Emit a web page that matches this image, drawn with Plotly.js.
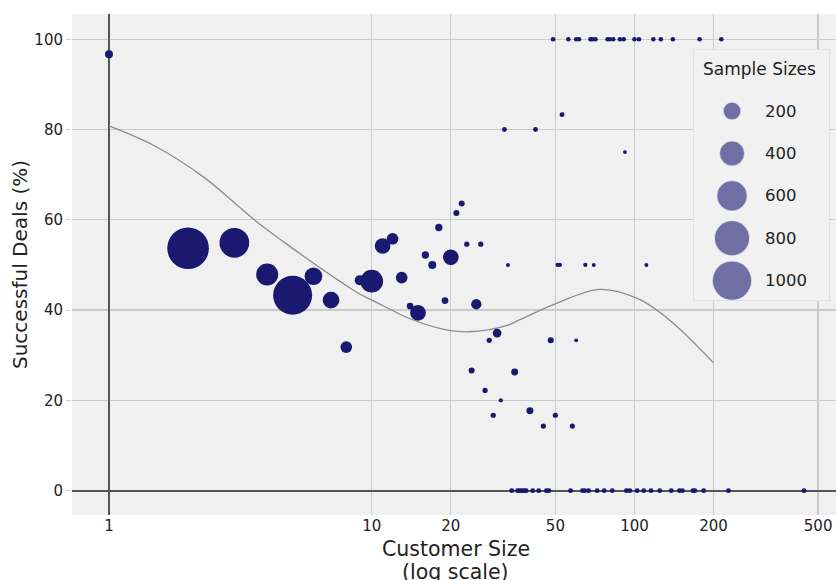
<!DOCTYPE html>
<html>
<head>
<meta charset="utf-8">
<script src="https://cdn.plot.ly/plotly-3.0.1.min.js"></script>
<style>html,body{margin:0;padding:0;background:#fff;}#chart{width:836px;height:580px;}</style>
</head>
<body>
<div id="chart"></div>
<script>
// ---- data ----
const customerSize = [
  1, 2, 3, 4, 5, 6, 7, 8, 9, 10, 11, 12, 13, 14, 15, 16, 17, 18, 19, 20,
  21, 22, 23, 24, 25, 26, 27, 28, 29, 30, 31, 32, 33, 35, 40, 42, 45, 48, 50, 51,
  52, 53, 58, 60, 65, 70, 92, 111,
  // 100% row
  49, 56, 60, 61.5, 68, 69, 71, 79, 80.5, 83, 88, 91, 100, 104, 118, 126, 140, 177, 214,
  // 0% row
  34.1, 35.9, 36.6, 37.3, 38.0, 38.7, 41.0, 43.2, 46.2, 47.2, 57.1, 63.4, 64.6, 66.9, 72.1, 76.7,
  82.3, 93.2, 96, 102.4, 108.4, 115.6, 124.8, 138, 148.3, 152.2, 166.9, 169.8, 183.4, 227.8, 441.8
];
const successPct = [
  96.7, 53.7, 54.9, 47.9, 43.3, 47.5, 42.2, 31.8, 46.6, 46.4, 54.2, 55.8, 47.2, 40.9, 39.4, 52.2, 50.0, 58.3, 42.1, 51.7,
  61.5, 63.6, 54.6, 26.6, 41.3, 54.6, 22.2, 33.3, 16.7, 34.9, 20.0, 80.0, 50.0, 26.3, 17.7, 80.0, 14.3, 33.3, 16.7, 50.0,
  50.0, 83.3, 14.3, 33.3, 50.0, 50.0, 75.0, 50.0,
  100, 100, 100, 100, 100, 100, 100, 100, 100, 100, 100, 100, 100, 100, 100, 100, 100, 100, 100,
  0, 0, 0, 0, 0, 0, 0, 0, 0, 0, 0, 0, 0, 0, 0, 0,
  0, 0, 0, 0, 0, 0, 0, 0, 0, 0, 0, 0, 0, 0, 0
];
const sampleSize = [
  42, 1140, 580, 318, 1000, 206, 183, 90, 66, 338, 162, 90, 90, 30, 162, 35, 42, 35, 30, 162,
  24, 24, 18, 24, 70, 18, 18, 18, 18, 50, 12, 16, 10, 32, 32, 16, 18, 24, 18, 12,
  12, 16, 18, 10, 12, 10, 10, 10,
  14, 14, 14, 14, 14, 14, 14, 14, 14, 14, 14, 14, 14, 14, 14, 14, 14, 14, 14,
  16, 16, 16, 16, 16, 16, 16, 16, 16, 16, 16, 16, 16, 16, 16, 16,
  16, 16, 16, 16, 16, 16, 16, 16, 16, 16, 16, 16, 16, 16, 16
];
// smoothed trend line
const fitX = [1, 1.5, 2.3, 3.0, 3.7, 4.65, 5.8, 7.6, 9.1, 10.2, 13.7, 18.3, 23.5, 32.8, 37, 50, 74, 105, 141, 200];
const fitY = [80.8, 76.3, 69.4, 63.8, 59.3, 55.0, 51.0, 46.3, 43.4, 42.0, 38.3, 35.9, 35.2, 36.6, 38.0, 41.4, 44.6, 42.3, 37.0, 28.3];
// legend
const legendSizes = [200, 400, 600, 800, 1000];
const legendTitle = 'Sample Sizes';
const xTicks = [1, 10, 20, 50, 100, 200, 500];
const yTicks = [0, 20, 40, 60, 80, 100];
const xTitleLines = ['Customer Size', '(log scale)'];

// ---- styling ----
const NAVY = '#191970';
const FONT = 'DejaVu Sans, sans-serif';
const maxDiam = 39;
const sizeref = 2 * 1000 / (maxDiam * maxDiam);
const yRange = [-5.4, 105.6];
const xRange = [-0.1408, 2.767];
const legY = [4.481, -1.462];

const traces = [
  {
    x: fitX, y: fitY, type: 'scatter', mode: 'lines',
    line: {color: '#8c8c8c', width: 1.3, shape: 'spline', smoothing: 1},
    hoverinfo: 'skip', xaxis: 'x', yaxis: 'y'
  },
  {
    x: customerSize, y: successPct, type: 'scatter', mode: 'markers',
    marker: {color: NAVY, opacity: 1, size: sampleSize, sizemode: 'area', sizeref: sizeref, line: {width: 0}},
    xaxis: 'x', yaxis: 'y'
  },
  {
    x: legendSizes.map(() => 0.285), y: legendSizes.map((_, i) => i),
    type: 'scatter', mode: 'markers',
    marker: {color: 'rgba(25,25,112,0.6)', opacity: 1, size: legendSizes, sizemode: 'area', sizeref: sizeref,
             line: {width: 0.8, color: 'rgba(235,235,245,0.7)'}},
    xaxis: 'x2', yaxis: 'y2', hoverinfo: 'skip'
  }
];

const annotations = [
  {xref: 'x2', yref: 'y2', x: 0.489, y: -0.99, text: legendTitle, showarrow: false,
   xanchor: 'center', yanchor: 'middle', font: {family: FONT, size: 17, color: '#222'}}
].concat(legendSizes.map((s, i) => ({
  xref: 'x2', yref: 'y2', x: 0.51, y: i, text: String(s), showarrow: false,
  xanchor: 'left', yanchor: 'middle', font: {family: FONT, size: 16.5, color: '#222'}
}))).concat(xTitleLines.map((t, i) => ({
  xref: 'paper', yref: 'paper', x: 0.502, y: i === 0 ? -0.0679 : -0.1128, text: t, showarrow: false,
  xanchor: 'center', yanchor: 'middle', font: {family: FONT, size: 20.5, color: '#222'}
})));

const layout = {
  width: 836, height: 580,
  margin: {l: 72, r: 0, t: 14, b: 65, pad: 0},
  paper_bgcolor: '#ffffff', plot_bgcolor: '#f0f0f0',
  showlegend: false,
  font: {family: FONT, color: '#222'},
  xaxis: {
    type: 'log', range: xRange, tickvals: xTicks, ticktext: xTicks.map(String),
    showgrid: true, gridcolor: '#cbcbcb', gridwidth: 1.3, zeroline: false, showline: false,
    ticks: '', tickfont: {size: 15, color: '#222'}, ticklabeloverflow: 'allow',
    domain: [0, 1], anchor: 'y', fixedrange: true
  },
  yaxis: {
    range: yRange, tickvals: yTicks, ticktext: yTicks.map(String),
    showgrid: true, gridcolor: '#cbcbcb', gridwidth: 1.3,
    zeroline: true, zerolinecolor: '#555555', zerolinewidth: 2, showline: false,
    ticks: 'outside', ticklen: 5, tickcolor: '#cccccc', tickwidth: 1,
    tickfont: {size: 15, color: '#222'},
    title: {text: 'Successful Deals (%)', font: {size: 20, color: '#222'}, standoff: 1},
    domain: [0, 1], anchor: 'x', fixedrange: true
  },
  xaxis2: {
    domain: [0.8128, 0.9921], range: [0, 1], anchor: 'y2',
    showgrid: false, zeroline: false, showline: false, showticklabels: false, ticks: '', fixedrange: true
  },
  yaxis2: {
    domain: [0.4271, 0.9301], range: legY, autorange: false, anchor: 'x2',
    showgrid: false, zeroline: false, showline: false, showticklabels: false, ticks: '', fixedrange: true
  },
  shapes: [
    {type: 'line', xref: 'x', yref: 'y', x0: 1, x1: 1, y0: yRange[0], y1: yRange[1],
     line: {color: '#555555', width: 2}, layer: 'between'},
    {type: 'rect', xref: 'x2', yref: 'y2', x0: 0, x1: 1, y0: legY[1], y1: legY[0],
     fillcolor: '#f1f1f1', line: {color: '#d6d6d6', width: 1.2}, layer: 'below'}
  ],
  annotations: annotations
};

Plotly.newPlot('chart', traces, layout, {displayModeBar: false, staticPlot: true});
</script>
</body>
</html>
